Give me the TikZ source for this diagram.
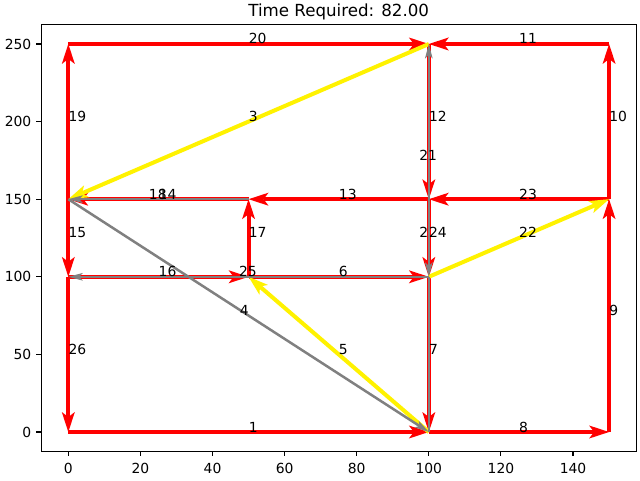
\documentclass[tikz,border=0pt]{standalone}
\usepackage{fontspec}
\setmainfont{DejaVu Sans}
\usetikzlibrary{arrows.meta}
\tikzset{
  redge/.style={draw=red, line width=2.9pt, -{Stealth[length=14.4pt,width=9.4pt,inset=3.6pt,line width=0pt]}},
  yedge/.style={draw=yellow, line width=2.9pt, -{Stealth[length=14.4pt,width=9.4pt,inset=3.6pt,line width=0pt]}},
  gedge/.style={draw=gray, line width=1.8pt, -{Stealth[length=10.5pt,width=5.6pt,inset=2.6pt,line width=0pt]}},
  gline/.style={draw=gray, line width=1.8pt},
  elabel/.style={anchor=base west, inner sep=0pt, font=\fontsize{10}{12}\selectfont},
  ticklab/.style={inner sep=0pt, font=\fontsize{10}{12}\selectfont},
  spine/.style={draw=black, line width=0.8pt},
}
\begin{document}
\begin{tikzpicture}[x=2.5956pt, y=1.11744pt]
\useasboundingbox (-18.95,-30.93) rectangle (158.58,278.35);
% axes frame
\draw[spine] (-7.5,-12.5) rectangle (157.5,262.5);
% x ticks
\foreach \t in {0,20,...,140} {
  \draw[spine] (\t,-12.5) -- ++(0,-3.5pt);
  \node[ticklab, anchor=north] (xt\t) at ([yshift=-8pt]\t,-12.5) {\t};
}
% y ticks
\foreach \t in {0,50,...,250} {
  \draw[spine] (-7.5,\t) -- ++(-3.5pt,0);
  \node[ticklab, anchor=east] (yt\t) at ([xshift=-7pt]-7.5,\t) {\t};
}
% title
\node[inner sep=0pt, anchor=base, font=\fontsize{12}{14}\selectfont] (title) at (75,267.85) {Time Required: 82.00};
% graph nodes
\coordinate (A) at (0,0);
\coordinate (B) at (100,0);
\coordinate (C) at (150,0);
\coordinate (D) at (0,100);
\coordinate (E) at (50,100);
\coordinate (F) at (100,100);
\coordinate (G) at (0,150);
\coordinate (H) at (50,150);
\coordinate (I) at (100,150);
\coordinate (J) at (150,150);
\coordinate (K) at (0,250);
\coordinate (L) at (100,250);
\coordinate (M) at (150,250);
% red edges
\draw[redge] (A) -- (B);
\draw[redge] (I) -- (F);
\draw[redge] (E) -- (F);
\draw[redge] (F) -- (B);
\draw[redge] (B) -- (C);
\draw[redge] (C) -- (J);
\draw[redge] (J) -- (M);
\draw[redge] (M) -- (L);
\draw[redge] (I) -- (H);
\draw[redge] (G) -- (D);
\draw[redge] (E) -- (H);
\draw[redge] (H) -- (G);
\draw[redge] (G) -- (K);
\draw[redge] (K) -- (L);
\draw[redge] (L) -- (I);
\draw[redge] (J) -- (I);
\draw[redge] (D) -- (E);
\draw[redge] (D) -- (A);
% yellow edges
\draw[yedge] (L) -- (G);
\draw[yedge] (B) -- (E);
\draw[yedge] (F) -- (J);
% gray edges
\draw[gline] (E) -- (F);
\draw[gline] (F) -- (B);
\draw[gedge] (G) -- (B);
\draw[gedge] (I) -- (L);
\draw[gedge] (H) -- (G);
\draw[gedge] (E) -- (D);
\draw[gedge] (I) -- (F);
% edge labels
\node[elabel] (l1) at (50,0) {1};
\node[elabel] (l2) at (97.3,125) {2};
\node[elabel] (l3) at (50,200) {3};
\node[elabel] (l4) at (47.5,75) {4};
\node[elabel] (l5) at (75,50) {5};
\node[elabel] (l6) at (75,100) {6};
\node[elabel] (l7) at (100,50) {7};
\node[elabel] (l8) at (125,0) {8};
\node[elabel] (l9) at (150,75) {9};
\node[elabel] (l10) at (150,200) {10};
\node[elabel] (l11) at (125,250) {11};
\node[elabel] (l12) at (100,200) {12};
\node[elabel] (l13) at (75,150) {13};
\node[elabel] (l14) at (25,150) {14};
\node[elabel] (l15) at (0,125) {15};
\node[elabel] (l16) at (25,100) {16};
\node[elabel] (l17) at (50,125) {17};
\node[elabel] (l18) at (22.3,150) {18};
\node[elabel] (l19) at (0,200) {19};
\node[elabel] (l20) at (50,250) {20};
\node[elabel] (l21) at (97.3,175) {21};
\node[elabel] (l22) at (125,125) {22};
\node[elabel] (l23) at (125,150) {23};
\node[elabel] (l24) at (100,125) {24};
\node[elabel] (l25) at (47.3,100) {25};
\node[elabel] (l26) at (0,50) {26};
\end{tikzpicture}
\end{document}
